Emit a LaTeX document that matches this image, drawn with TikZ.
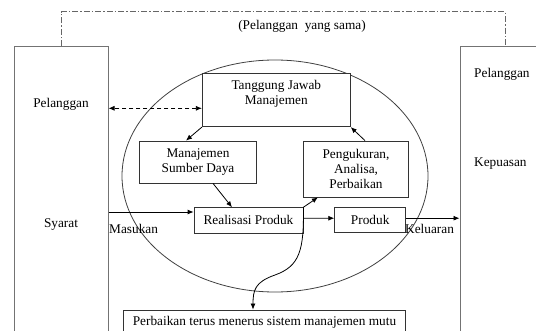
\documentclass[tikz,border=0pt]{standalone}
\usepackage{fontspec}
\setmainfont{Liberation Serif}
\usepackage{tikz}
\usetikzlibrary{arrows.meta,positioning,shapes.geometric}

\begin{document}
\begin{tikzpicture}[
  x=1pt, y=-1pt,
  font=\fontsize{13.3}{15}\selectfont,
  box/.style={draw=black!80, fill=white, line width=0.8pt, align=center, inner sep=0pt},
  big/.style={draw=black!55, line width=1pt, inner sep=0pt},
  lbl/.style={inner sep=0pt},
  arr/.style={-{Latex[length=6pt,width=5pt]}, line width=0.8pt},
  dasharr/.style={{Latex[length=6pt,width=5pt]}-{Latex[length=6pt,width=5pt]}, dash pattern=on 4pt off 3pt, line width=0.8pt},
  dashdot/.style={draw=black!60, line width=1pt, dash pattern=on 6pt off 2pt on 1.5pt off 2pt}
]
\useasboundingbox (0,0) rectangle (536,331);
\clip (0,0) rectangle (536,331);

% pelanggan kiri dan kanan
\node[big, minimum width=94pt, minimum height=300pt] (lb) at (61,197) {};
\node[big, minimum width=90pt, minimum height=300pt] (rb) at (505,197) {};
\node[lbl] (plgkiri) at (61,104.5) {Pelanggan};
\node[lbl] (syarat) at (61,225) {Syarat};
\node[lbl, anchor=west] (plgkanan) at (474,74) {Pelanggan};
\node[lbl, anchor=west] (puas) at (474,164) {Kepuasan};

% lingkaran proses
\node[draw=black!75, ellipse, line width=0.8pt, inner sep=0pt,
  minimum width=306pt, minimum height=232pt] (proses) at (275,176) {};

% kotak
\node[box, minimum width=148pt, minimum height=53.4pt, text depth=16pt] (tjm) at (276.3,100) {Tanggung Jawab\\Manajemen};
\node[box, minimum width=117.7pt, minimum height=42pt] (msd) at (198,162) {Manajemen\\Sumber Daya};
\node[box, minimum width=105.4pt, minimum height=56pt] (ukur) at (356,169) {Pengukuran,\\Analisa,\\Perbaikan};
\node[box, minimum width=109pt, minimum height=25.3pt] (rp) at (248.5,220.3) {Realisasi Produk};
\node[box, minimum width=71pt, minimum height=25pt] (pd) at (370.2,220.2) {Produk};
\node[box, minimum width=282.4pt, minimum height=25pt] (pb) at (264.5,322.5) {Perbaikan terus menerus sistem manajemen mutu};

% label
\node[lbl] (sama) at (302,26) {(Pelanggan\ \ yang sama)};
\node[lbl, anchor=west] (masuk) at (109,228.5) {Masukan};
\node[lbl, anchor=west] (keluar) at (405,229) {Keluaran};

% garis
\draw[dashdot] (lb.north) -- ++(0,-34.7) -| (rb.north);
\draw[dasharr] ([yshift=-8.3pt]tjm.west) -- ([yshift=-8.3pt]tjm.west -| lb.east);
\draw[arr] (tjm.south west) -- ([xshift=-12pt]msd.north);
\draw[arr] ([xshift=15pt]msd.south) -- ([xshift=-16.5pt]rp.north);
\draw[arr] (rp.north east) -- ([xshift=15pt]ukur.south west);
\draw[arr] ([xshift=9pt]ukur.north) -- (tjm.south east);
\draw[arr] ([yshift=8.3pt]rp.west -| lb.east) -- ([yshift=8.3pt]rp.west);
\draw[arr] ([yshift=2pt]rp.east) -- ([yshift=2pt]pd.west);
\draw[arr] ([yshift=2pt]pd.east) -- ([yshift=2pt]pd.east -| rb.west);
\draw[arr] (rp.north east) .. controls (304,250) and (300,266) .. (275,275)
  .. controls (255,282) and (253,290) .. ([xshift=-11.5pt]pb.north);
\end{tikzpicture}
\end{document}
